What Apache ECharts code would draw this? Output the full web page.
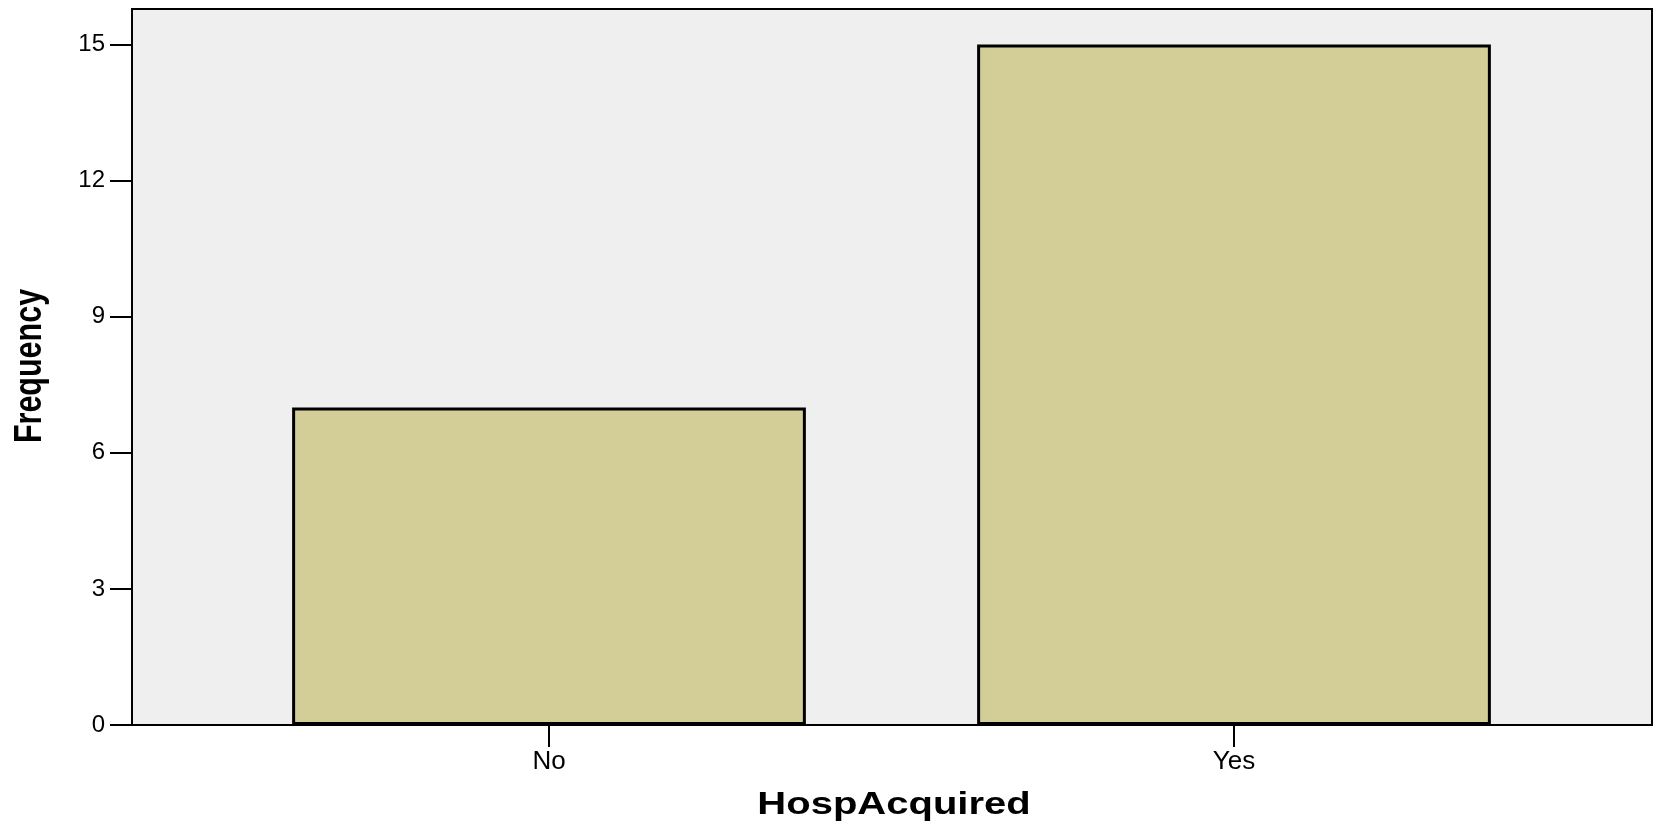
<!DOCTYPE html>
<html>
<head>
<meta charset="utf-8">
<script src="https://cdn.jsdelivr.net/npm/echarts@6/dist/echarts.min.js"></script>
<style>
  html, body { margin: 0; padding: 0; background: #fff; }
  #chart { width: 1662px; height: 824px; }
</style>
</head>
<body>
<div id="chart"></div>
<script>
const categories = ['No', 'Yes'];
const frequency = [7, 15];
const yTicks = [0, 3, 6, 9, 12, 15];
const yMax = 15.78;

const FONT = '"Liberation Sans", Arial, sans-serif';

const chart = echarts.init(document.getElementById('chart'));

const option = {
  animation: false,
  grid: [
    {
      // frame with grey background
      left: 132, right: 10, top: 9, bottom: 99,
      show: true,
      backgroundColor: '#efefef',
      borderColor: '#000',
      borderWidth: 2
    },
    {
      // bars sit in a narrower band, like SPSS
      left: 206.5, right: 85.5, top: 9, bottom: 99,
      show: false
    }
  ],
  xAxis: [
    {
      gridIndex: 0,
      type: 'category',
      data: categories,
      show: false
    },
    {
      gridIndex: 1,
      type: 'category',
      data: categories,
      axisLine: { show: false },
      axisTick: {
        show: true,
        alignWithLabel: true,
        length: 22,
        lineStyle: { color: '#000', width: 2 }
      },
      axisLabel: {
        color: '#000',
        fontFamily: FONT,
        fontSize: 26,
        margin: 24
      },
      splitLine: { show: false }
    }
  ],
  yAxis: [
    {
      gridIndex: 0,
      type: 'value',
      min: 0,
      max: yMax,
      axisLine: { show: false },
      axisTick: {
        show: true,
        length: 22,
        customValues: yTicks,
        lineStyle: { color: '#000', width: 2 }
      },
      axisLabel: {
        color: '#000',
        fontFamily: FONT,
        fontSize: 24,
        margin: 27,
        customValues: yTicks
      },
      splitLine: { show: false }
    },
    {
      gridIndex: 1,
      type: 'value',
      min: 0,
      max: yMax,
      show: false
    }
  ],
  series: [
    {
      type: 'bar',
      xAxisIndex: 1,
      yAxisIndex: 1,
      data: frequency,
      barWidth: '75%',
      itemStyle: {
        color: '#d3ce98',
        borderColor: '#000',
        borderWidth: 3
      },
      z: 5
    }
  ],
  graphic: [
    {
      type: 'text',
      x: 894,
      y: 805,
      scaleX: 1.29,
      style: {
        text: 'HospAcquired',
        font: 'bold 31px ' + FONT,
        fill: '#000',
        align: 'center',
        verticalAlign: 'middle'
      }
    },
    {
      type: 'text',
      x: 30,
      y: 366,
      rotation: Math.PI / 2,
      scaleY: 1.3,
      style: {
        text: 'Frequency',
        font: 'bold 30.5px ' + FONT,
        fill: '#000',
        align: 'center',
        verticalAlign: 'middle'
      }
    }
  ]
};

chart.setOption(option);
</script>
</body>
</html>
